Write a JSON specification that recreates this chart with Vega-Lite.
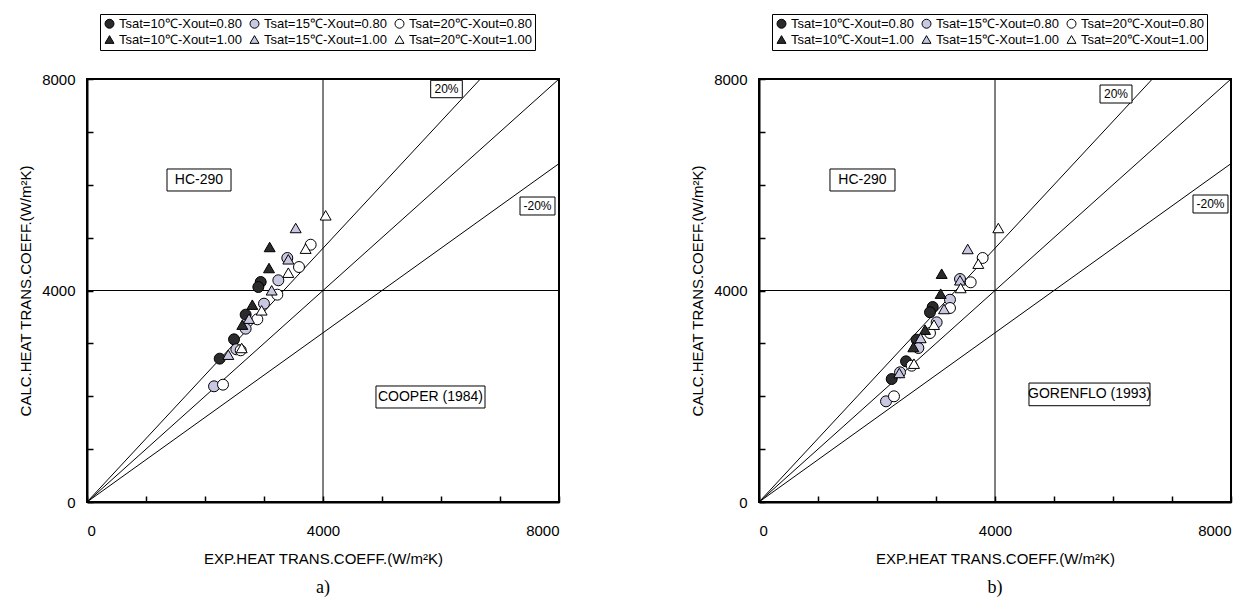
{
  "$schema": "https://vega.github.io/schema/vega-lite/v6.json",
  "background": "white",
  "padding": {"left": 17, "top": 12, "right": 5, "bottom": 5},
  "datasets": {
    "lines": [
      {"ref": "1:1", "ex": 0, "calc": 0}, {"ref": "1:1", "ex": 8000, "calc": 8000},
      {"ref": "+20", "ex": 0, "calc": 0}, {"ref": "+20", "ex": 6667, "calc": 8000},
      {"ref": "-20", "ex": 0, "calc": 0}, {"ref": "-20", "ex": 8000, "calc": 6400},
      {"ref": "v", "ex": 4000, "calc": 0}, {"ref": "v", "ex": 4000, "calc": 8000},
      {"ref": "h", "ex": 0, "calc": 4000}, {"ref": "h", "ex": 8000, "calc": 4000}
    ],
    "boxesA": [
      {"label": "HC-290", "ex": 1898, "calc": 6090, "bx1": 1356, "bx2": 2441, "by1": 5882, "by2": 6298, "kind": "big"},
      {"label": "COOPER (1984)", "ex": 5822, "calc": 1986, "bx1": 4898, "bx2": 6746, "by1": 1778, "by2": 2194, "kind": "big"},
      {"label": "20%", "ex": 6093, "calc": 7811, "bx1": 5825, "bx2": 6361, "by1": 7646, "by2": 7975, "kind": "small"},
      {"label": "-20%", "ex": 7636, "calc": 5598, "bx1": 7339, "bx2": 7932, "by1": 5428, "by2": 5768, "kind": "small"}
    ],
    "boxesB": [
      {"label": "HC-290", "ex": 1754, "calc": 6090, "bx1": 1203, "bx2": 2305, "by1": 5882, "by2": 6298, "kind": "big"},
      {"label": "GORENFLO (1993)", "ex": 5602, "calc": 2035, "bx1": 4576, "bx2": 6627, "by1": 1821, "by2": 2250, "kind": "big"},
      {"label": "20%", "ex": 6051, "calc": 7716, "bx1": 5780, "bx2": 6322, "by1": 7546, "by2": 7886, "kind": "small"},
      {"label": "-20%", "ex": 7652, "calc": 5636, "bx1": 7356, "bx2": 7949, "by1": 5466, "by2": 5806, "kind": "small"}
    ],
    "ptsA": [
      {"s": "Tsat=10℃-Xout=0.80", "ex": 2944, "calc": 4161},
      {"s": "Tsat=10℃-Xout=0.80", "ex": 2904, "calc": 4066},
      {"s": "Tsat=10℃-Xout=0.80", "ex": 2689, "calc": 3543},
      {"s": "Tsat=10℃-Xout=0.80", "ex": 2492, "calc": 3077},
      {"s": "Tsat=10℃-Xout=0.80", "ex": 2249, "calc": 2711},
      {"s": "Tsat=15℃-Xout=0.80", "ex": 3395, "calc": 4615},
      {"s": "Tsat=15℃-Xout=0.80", "ex": 3243, "calc": 4193},
      {"s": "Tsat=15℃-Xout=0.80", "ex": 3000, "calc": 3751},
      {"s": "Tsat=15℃-Xout=0.80", "ex": 2689, "calc": 3278},
      {"s": "Tsat=15℃-Xout=0.80", "ex": 2531, "calc": 2888},
      {"s": "Tsat=15℃-Xout=0.80", "ex": 2153, "calc": 2188},
      {"s": "Tsat=20℃-Xout=0.80", "ex": 3791, "calc": 4866},
      {"s": "Tsat=20℃-Xout=0.80", "ex": 3593, "calc": 4444},
      {"s": "Tsat=20℃-Xout=0.80", "ex": 3226, "calc": 3921},
      {"s": "Tsat=20℃-Xout=0.80", "ex": 2887, "calc": 3455},
      {"s": "Tsat=20℃-Xout=0.80", "ex": 2605, "calc": 2869},
      {"s": "Tsat=20℃-Xout=0.80", "ex": 2305, "calc": 2219},
      {"s": "Tsat=10℃-Xout=1.00", "ex": 3096, "calc": 4823},
      {"s": "Tsat=10℃-Xout=1.00", "ex": 3085, "calc": 4425},
      {"s": "Tsat=10℃-Xout=1.00", "ex": 2802, "calc": 3732},
      {"s": "Tsat=10℃-Xout=1.00", "ex": 2633, "calc": 3354},
      {"s": "Tsat=15℃-Xout=1.00", "ex": 3537, "calc": 5182},
      {"s": "Tsat=15℃-Xout=1.00", "ex": 3412, "calc": 4590},
      {"s": "Tsat=15℃-Xout=1.00", "ex": 3130, "calc": 4004},
      {"s": "Tsat=15℃-Xout=1.00", "ex": 2746, "calc": 3467},
      {"s": "Tsat=15℃-Xout=1.00", "ex": 2395, "calc": 2786},
      {"s": "Tsat=20℃-Xout=1.00", "ex": 4045, "calc": 5422},
      {"s": "Tsat=20℃-Xout=1.00", "ex": 3706, "calc": 4791},
      {"s": "Tsat=20℃-Xout=1.00", "ex": 3412, "calc": 4337},
      {"s": "Tsat=20℃-Xout=1.00", "ex": 2960, "calc": 3625},
      {"s": "Tsat=20℃-Xout=1.00", "ex": 2622, "calc": 2913}
    ],
    "ptsB": [
      {"s": "Tsat=10℃-Xout=0.80", "ex": 2944, "calc": 3688},
      {"s": "Tsat=10℃-Xout=0.80", "ex": 2898, "calc": 3588},
      {"s": "Tsat=10℃-Xout=0.80", "ex": 2672, "calc": 3070},
      {"s": "Tsat=10℃-Xout=0.80", "ex": 2492, "calc": 2661},
      {"s": "Tsat=10℃-Xout=0.80", "ex": 2249, "calc": 2326},
      {"s": "Tsat=15℃-Xout=0.80", "ex": 3407, "calc": 4217},
      {"s": "Tsat=15℃-Xout=0.80", "ex": 3237, "calc": 3826},
      {"s": "Tsat=15℃-Xout=0.80", "ex": 3011, "calc": 3398},
      {"s": "Tsat=15℃-Xout=0.80", "ex": 2701, "calc": 2912},
      {"s": "Tsat=15℃-Xout=0.80", "ex": 2390, "calc": 2453},
      {"s": "Tsat=15℃-Xout=0.80", "ex": 2153, "calc": 1904},
      {"s": "Tsat=20℃-Xout=0.80", "ex": 3791, "calc": 4615},
      {"s": "Tsat=20℃-Xout=0.80", "ex": 3588, "calc": 4155},
      {"s": "Tsat=20℃-Xout=0.80", "ex": 3237, "calc": 3669},
      {"s": "Tsat=20℃-Xout=0.80", "ex": 2898, "calc": 3196},
      {"s": "Tsat=20℃-Xout=0.80", "ex": 2588, "calc": 2578},
      {"s": "Tsat=20℃-Xout=0.80", "ex": 2288, "calc": 1999},
      {"s": "Tsat=10℃-Xout=1.00", "ex": 3096, "calc": 4318},
      {"s": "Tsat=10℃-Xout=1.00", "ex": 3079, "calc": 3940},
      {"s": "Tsat=10℃-Xout=1.00", "ex": 2814, "calc": 3259},
      {"s": "Tsat=10℃-Xout=1.00", "ex": 2616, "calc": 2931},
      {"s": "Tsat=15℃-Xout=1.00", "ex": 3537, "calc": 4785},
      {"s": "Tsat=15℃-Xout=1.00", "ex": 3407, "calc": 4193},
      {"s": "Tsat=15℃-Xout=1.00", "ex": 3136, "calc": 3650},
      {"s": "Tsat=15℃-Xout=1.00", "ex": 2740, "calc": 3102},
      {"s": "Tsat=15℃-Xout=1.00", "ex": 2378, "calc": 2440},
      {"s": "Tsat=20℃-Xout=1.00", "ex": 4056, "calc": 5182},
      {"s": "Tsat=20℃-Xout=1.00", "ex": 3717, "calc": 4507},
      {"s": "Tsat=20℃-Xout=1.00", "ex": 3418, "calc": 4047},
      {"s": "Tsat=20℃-Xout=1.00", "ex": 2966, "calc": 3353},
      {"s": "Tsat=20℃-Xout=1.00", "ex": 2627, "calc": 2616}
    ]
  },
  "hconcat": [
    {
      "width": 472, "height": 423,
      "title": {"text": "a)", "orient": "bottom", "font": "Liberation Serif", "fontSize": 18, "fontWeight": "normal", "color": "black", "offset": 13},
      "encoding": {
        "x": {"field": "ex", "type": "quantitative", "scale": {"domain": [0, 8000], "nice": false},
          "axis": {"title": "EXP.HEAT TRANS.COEFF.(W/m²K)", "values": [0,1000,2000,3000,4000,5000,6000,7000,8000], "format": "d", "labelExpr": "datum.value % 4000 === 0 ? datum.label : ''", "labelPadding": 27, "titlePadding": 13}},
        "y": {"field": "calc", "type": "quantitative", "scale": {"domain": [0, 8000], "nice": false},
          "axis": {"title": "CALC.HEAT TRANS.COEFF.(W/m²K)", "values": [0,1000,2000,3000,4000,5000,6000,7000,8000], "format": "d", "labelExpr": "datum.value % 4000 === 0 ? datum.label : ''", "labelPadding": 18, "titlePadding": 8}}
      },
      "layer": [
        {"data": {"name": "lines"}, "mark": {"type": "line", "color": "black", "strokeWidth": 1},
          "encoding": {"detail": {"field": "ref"}}},
        {"data": {"name": "boxesA"}, "mark": {"type": "rect", "fill": "white", "stroke": "black", "strokeWidth": 1},
          "encoding": {
            "x": {"field": "bx1", "type": "quantitative", "scale": {"domain": [0, 8000], "nice": false}, "title": "EXP.HEAT TRANS.COEFF.(W/m²K)"},
            "x2": {"field": "bx2"},
            "y": {"field": "by1", "type": "quantitative", "scale": {"domain": [0, 8000], "nice": false}, "title": "CALC.HEAT TRANS.COEFF.(W/m²K)"},
            "y2": {"field": "by2"}}},
        {"data": {"name": "boxesA"}, "transform": [{"filter": "datum.kind === 'big'"}],
          "mark": {"type": "text", "color": "black", "font": "Liberation Sans", "fontSize": 14},
          "encoding": {"text": {"field": "label"}}},
        {"data": {"name": "boxesA"}, "transform": [{"filter": "datum.kind === 'small'"}],
          "mark": {"type": "text", "color": "black", "font": "Liberation Sans", "fontSize": 12},
          "encoding": {"text": {"field": "label"}}},
        {"data": {"name": "ptsA"}, "mark": {"type": "point", "filled": true, "strokeWidth": 1, "opacity": 1, "size": 120},
          "encoding": {
            "shape": {"field": "s", "type": "nominal",
              "scale": {"domain": ["Tsat=10℃-Xout=0.80","Tsat=15℃-Xout=0.80","Tsat=20℃-Xout=0.80","Tsat=10℃-Xout=1.00","Tsat=15℃-Xout=1.00","Tsat=20℃-Xout=1.00"],
                "range": ["circle","circle","circle","triangle-up","triangle-up","triangle-up"]},
              "legend": {"orient": "none", "legendX": 13, "legendY": -65, "columns": 3, "title": null, "direction": "horizontal"}},
            "fill": {"field": "s", "type": "nominal",
              "scale": {"domain": ["Tsat=10℃-Xout=0.80","Tsat=15℃-Xout=0.80","Tsat=20℃-Xout=0.80","Tsat=10℃-Xout=1.00","Tsat=15℃-Xout=1.00","Tsat=20℃-Xout=1.00"],
                "range": ["#2b2b2b","#c8c8e2","#ffffff","#2b2b2b","#c8c8e2","#ffffff"]},
              "legend": {"orient": "none", "legendX": 13, "legendY": -65, "columns": 3, "title": null, "direction": "horizontal"}},
            "stroke": {"field": "s", "type": "nominal",
              "scale": {"domain": ["Tsat=10℃-Xout=0.80","Tsat=15℃-Xout=0.80","Tsat=20℃-Xout=0.80","Tsat=10℃-Xout=1.00","Tsat=15℃-Xout=1.00","Tsat=20℃-Xout=1.00"],
                "range": ["#000000","#000000","#000000","#000000","#000000","#000000"]},
              "legend": {"orient": "none", "legendX": 13, "legendY": -65, "columns": 3, "title": null, "direction": "horizontal"}}
          }}
      ]
    },
    {
      "width": 472, "height": 423,
      "title": {"text": "b)", "orient": "bottom", "font": "Liberation Serif", "fontSize": 18, "fontWeight": "normal", "color": "black", "offset": 13},
      "encoding": {
        "x": {"field": "ex", "type": "quantitative", "scale": {"domain": [0, 8000], "nice": false},
          "axis": {"title": "EXP.HEAT TRANS.COEFF.(W/m²K)", "values": [0,1000,2000,3000,4000,5000,6000,7000,8000], "format": "d", "labelExpr": "datum.value % 4000 === 0 ? datum.label : ''", "labelPadding": 27, "titlePadding": 13}},
        "y": {"field": "calc", "type": "quantitative", "scale": {"domain": [0, 8000], "nice": false},
          "axis": {"title": "CALC.HEAT TRANS.COEFF.(W/m²K)", "values": [0,1000,2000,3000,4000,5000,6000,7000,8000], "format": "d", "labelExpr": "datum.value % 4000 === 0 ? datum.label : ''", "labelPadding": 18, "titlePadding": 8}}
      },
      "layer": [
        {"data": {"name": "lines"}, "mark": {"type": "line", "color": "black", "strokeWidth": 1},
          "encoding": {"detail": {"field": "ref"}}},
        {"data": {"name": "boxesB"}, "mark": {"type": "rect", "fill": "white", "stroke": "black", "strokeWidth": 1},
          "encoding": {
            "x": {"field": "bx1", "type": "quantitative", "scale": {"domain": [0, 8000], "nice": false}, "title": "EXP.HEAT TRANS.COEFF.(W/m²K)"},
            "x2": {"field": "bx2"},
            "y": {"field": "by1", "type": "quantitative", "scale": {"domain": [0, 8000], "nice": false}, "title": "CALC.HEAT TRANS.COEFF.(W/m²K)"},
            "y2": {"field": "by2"}}},
        {"data": {"name": "boxesB"}, "transform": [{"filter": "datum.kind === 'big'"}],
          "mark": {"type": "text", "color": "black", "font": "Liberation Sans", "fontSize": 14},
          "encoding": {"text": {"field": "label"}}},
        {"data": {"name": "boxesB"}, "transform": [{"filter": "datum.kind === 'small'"}],
          "mark": {"type": "text", "color": "black", "font": "Liberation Sans", "fontSize": 12},
          "encoding": {"text": {"field": "label"}}},
        {"data": {"name": "ptsB"}, "mark": {"type": "point", "filled": true, "strokeWidth": 1, "opacity": 1, "size": 120},
          "encoding": {
            "shape": {"field": "s", "type": "nominal",
              "scale": {"domain": ["Tsat=10℃-Xout=0.80","Tsat=15℃-Xout=0.80","Tsat=20℃-Xout=0.80","Tsat=10℃-Xout=1.00","Tsat=15℃-Xout=1.00","Tsat=20℃-Xout=1.00"],
                "range": ["circle","circle","circle","triangle-up","triangle-up","triangle-up"]},
              "legend": {"orient": "none", "legendX": 13, "legendY": -65, "columns": 3, "title": null, "direction": "horizontal"}},
            "fill": {"field": "s", "type": "nominal",
              "scale": {"domain": ["Tsat=10℃-Xout=0.80","Tsat=15℃-Xout=0.80","Tsat=20℃-Xout=0.80","Tsat=10℃-Xout=1.00","Tsat=15℃-Xout=1.00","Tsat=20℃-Xout=1.00"],
                "range": ["#2b2b2b","#c8c8e2","#ffffff","#2b2b2b","#c8c8e2","#ffffff"]},
              "legend": {"orient": "none", "legendX": 13, "legendY": -65, "columns": 3, "title": null, "direction": "horizontal"}},
            "stroke": {"field": "s", "type": "nominal",
              "scale": {"domain": ["Tsat=10℃-Xout=0.80","Tsat=15℃-Xout=0.80","Tsat=20℃-Xout=0.80","Tsat=10℃-Xout=1.00","Tsat=15℃-Xout=1.00","Tsat=20℃-Xout=1.00"],
                "range": ["#000000","#000000","#000000","#000000","#000000","#000000"]},
              "legend": {"orient": "none", "legendX": 13, "legendY": -65, "columns": 3, "title": null, "direction": "horizontal"}}
          }}
      ]
    }
  ],
  "spacing": 127,
  "resolve": {"scale": {"shape": "independent", "fill": "independent", "stroke": "independent"}, "legend": {"shape": "independent", "fill": "independent", "stroke": "independent"}},
  "config": {
    "font": "Liberation Sans",
    "view": {"stroke": "black", "strokeWidth": 2},
    "axis": {"domainColor": "black", "domainWidth": 2, "tickColor": "black", "tickWidth": 1.5, "tickSize": -6,
      "labelFontSize": 15, "labelColor": "black", "labelFont": "Liberation Sans",
      "titleFontSize": 15, "titleFontWeight": "normal", "titleColor": "black", "titleFont": "Liberation Sans", "grid": false},
    "legend": {"strokeColor": "black", "padding": 3, "labelFontSize": 13, "labelColor": "black", "labelFont": "Liberation Sans",
      "symbolSize": 80, "symbolStrokeWidth": 1, "columnPadding": 6, "rowPadding": 2, "labelLimit": 250, "labelOffset": 3}
  }
}
